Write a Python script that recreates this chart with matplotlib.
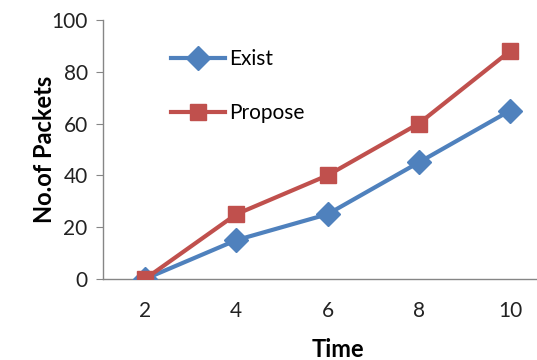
import matplotlib
matplotlib.use("Agg")
import matplotlib.pyplot as plt
import numpy as np

# data
time_labels = ["2", "4", "6", "8", "10"]
exist = [0, 15, 25, 45, 65]
propose = [0, 25, 40, 60, 88]

plt.rcParams['font.family'] = ['Lato', 'DejaVu Sans']

fig = plt.figure(figsize=(5.37, 3.6), dpi=100)
# axes spans past the right edge, like the cropped Excel chart
ax = fig.add_axes([103/537, 81/360, 470/537, 259/360])

x = np.arange(len(time_labels))
ax.plot(x, exist, color="#4F81BD", lw=3, marker="D", ms=12,
        label="Exist", zorder=3)
ax.plot(x, propose, color="#C0504D", lw=3, marker="s", ms=12,
        label="Propose", zorder=3)

ax.set_ylim(0, 100)
ax.set_xlim(-0.46, 4.69)
ax.set_yticks(range(0, 101, 20))
ax.set_xticks(x)
ax.set_xticklabels(time_labels)

for s in ["top", "right"]:
    ax.spines[s].set_visible(False)
for s in ["left", "bottom"]:
    ax.spines[s].set_color("#868686")
    ax.spines[s].set_linewidth(1)

ax.tick_params(axis="y", length=5, color="#868686", labelsize=15, pad=6,
               labelcolor="#222222")
ax.tick_params(axis="x", length=0, labelsize=15, pad=16, labelcolor="#222222")

ax.set_ylabel("No.of Packets", fontsize=17, fontweight="bold", labelpad=-3)
ax.set_xlabel("Time", fontsize=17, fontweight="bold", labelpad=12)

leg = ax.legend(loc="upper left", bbox_to_anchor=(0.105, 0.96), frameon=False,
                fontsize=15, handlelength=2.6, labelspacing=1.65,
                handletextpad=0.2)

fig.savefig("out.png", dpi=100)
